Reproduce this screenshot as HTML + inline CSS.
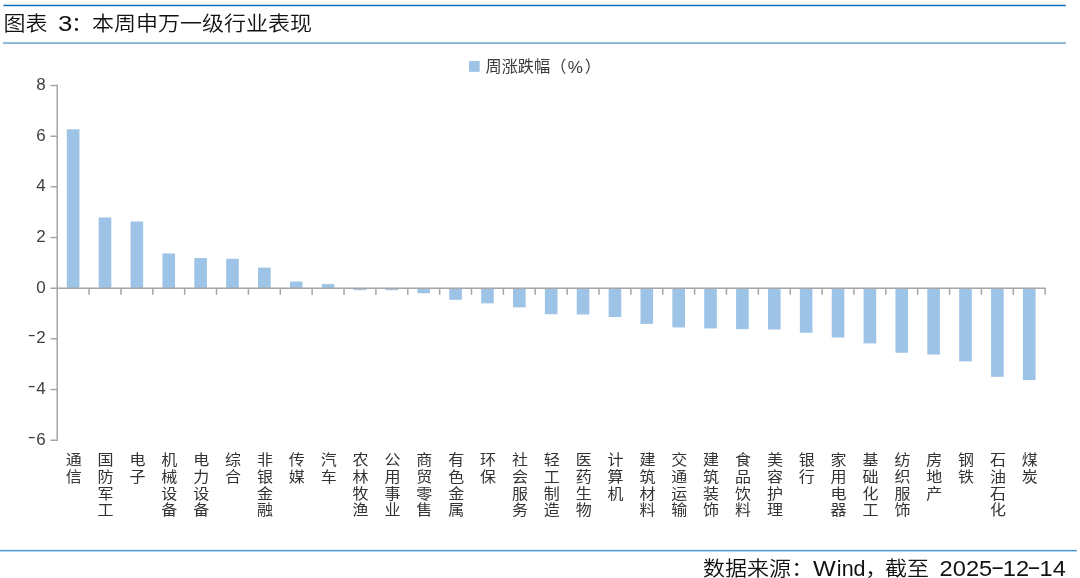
<!DOCTYPE html>
<html lang="zh-CN">
<head>
<meta charset="utf-8">
<title>图表 3：本周申万一级行业表现</title>
<style>
html,body{margin:0;padding:0;background:#fff;}
body{width:1080px;height:578px;position:relative;overflow:hidden;font-family:"Liberation Sans","Noto Sans CJK SC",sans-serif;}
.abs{position:absolute;}
.cjk{font-family:"Liberation Sans","Noto Sans CJK SC",sans-serif;font-weight:350;}
.title{left:0;top:8.2px;width:400px;height:32px;line-height:32px;font-size:22px;color:#111;white-space:nowrap;}
.src{left:0;top:554.2px;width:1080px;height:30px;line-height:30px;font-size:22px;color:#111;white-space:nowrap;}
.title span,.src span{display:inline-block;vertical-align:baseline;white-space:pre;transform:scaleY(0.94);}
.lat{font-family:"Liberation Sans",sans-serif;font-weight:400;font-size:21.5px;}
.hy{font-weight:400;display:inline-block;width:9.6px;text-align:center;transform:translateY(-1.8px) scaleX(1.75);}
.title span.lat,.src span.lat{transform:none;}
.src span.sx{transform:scaleX(1.1);transform-origin:0 50%;}
.wd{font-weight:400;display:inline-block;transform:scaleX(1.12);transform-origin:0 50%;margin-right:3.2px;}
.mn{font-weight:400;display:inline-block;transform:translateY(-2.7px) scaleX(1.4);transform-origin:100% 50%;margin-right:0.3px;}
svg.g{position:absolute;left:0;top:0;}
.yl{position:absolute;width:40px;left:5.8px;text-align:right;font-size:17px;line-height:20px;height:20px;color:#404040;font-family:"Liberation Sans",sans-serif;}
.xl{position:absolute;top:451.8px;width:16px;font-size:16px;line-height:17.9px;transform:scaleY(0.93);transform-origin:0 0;text-align:center;color:#333;word-break:break-all;font-weight:400;}
.lg{position:absolute;left:0;top:55.5px;width:700px;font-size:16.2px;line-height:20px;height:20px;color:#3a3a3a;white-space:nowrap;font-weight:400;}
.lg span{display:inline-block;vertical-align:baseline;white-space:pre;}
</style>
</head>
<body>
<svg class="g" width="1080" height="578" viewBox="0 0 1080 578">
<rect x="3.4" y="4.75" width="1062.3" height="1.45" fill="#0a6abf"/>
<rect x="3" y="41.9" width="1063" height="1" fill="#93c3e3"/>
<rect x="3" y="42.9" width="1063" height="1" fill="#82a9c9"/>
<rect x="469.1" y="61.1" width="10.6" height="10.7" fill="#9dc3e6"/>
<rect x="66.84" y="129.33" width="12.60" height="158.82" fill="#9dc3e6"/>
<rect x="98.70" y="217.48" width="12.60" height="70.67" fill="#9dc3e6"/>
<rect x="130.57" y="221.53" width="12.60" height="66.62" fill="#9dc3e6"/>
<rect x="162.44" y="253.45" width="12.60" height="34.70" fill="#9dc3e6"/>
<rect x="194.31" y="258.01" width="12.60" height="30.14" fill="#9dc3e6"/>
<rect x="226.19" y="258.77" width="12.60" height="29.38" fill="#9dc3e6"/>
<rect x="258.06" y="267.63" width="12.60" height="20.52" fill="#9dc3e6"/>
<rect x="289.93" y="281.56" width="12.60" height="6.59" fill="#9dc3e6"/>
<rect x="321.79" y="284.10" width="12.60" height="4.05" fill="#9dc3e6"/>
<rect x="353.66" y="288.15" width="12.60" height="2.03" fill="#9dc3e6"/>
<rect x="385.53" y="288.15" width="12.60" height="2.03" fill="#9dc3e6"/>
<rect x="417.40" y="288.15" width="12.60" height="5.07" fill="#9dc3e6"/>
<rect x="449.27" y="288.15" width="12.60" height="11.65" fill="#9dc3e6"/>
<rect x="481.14" y="288.15" width="12.60" height="15.20" fill="#9dc3e6"/>
<rect x="513.02" y="288.15" width="12.60" height="19.25" fill="#9dc3e6"/>
<rect x="544.89" y="288.15" width="12.60" height="26.09" fill="#9dc3e6"/>
<rect x="576.76" y="288.15" width="12.60" height="26.34" fill="#9dc3e6"/>
<rect x="608.63" y="288.15" width="12.60" height="28.88" fill="#9dc3e6"/>
<rect x="640.50" y="288.15" width="12.60" height="35.72" fill="#9dc3e6"/>
<rect x="672.37" y="288.15" width="12.60" height="39.26" fill="#9dc3e6"/>
<rect x="704.24" y="288.15" width="12.60" height="40.27" fill="#9dc3e6"/>
<rect x="736.11" y="288.15" width="12.60" height="41.03" fill="#9dc3e6"/>
<rect x="767.98" y="288.15" width="12.60" height="41.29" fill="#9dc3e6"/>
<rect x="799.85" y="288.15" width="12.60" height="44.58" fill="#9dc3e6"/>
<rect x="831.72" y="288.15" width="12.60" height="49.39" fill="#9dc3e6"/>
<rect x="863.59" y="288.15" width="12.60" height="55.22" fill="#9dc3e6"/>
<rect x="895.46" y="288.15" width="12.60" height="64.59" fill="#9dc3e6"/>
<rect x="927.33" y="288.15" width="12.60" height="66.36" fill="#9dc3e6"/>
<rect x="959.20" y="288.15" width="12.60" height="73.20" fill="#9dc3e6"/>
<rect x="991.07" y="288.15" width="12.60" height="88.66" fill="#9dc3e6"/>
<rect x="1022.94" y="288.15" width="12.60" height="91.95" fill="#9dc3e6"/>
<g stroke="#a6a6a6" stroke-width="1.5" fill="none">
<path d="M57.20 84.76 V440.88"/>
<path d="M50.5 85.51 H57.20 M50.5 136.17 H57.20 M50.5 186.83 H57.20 M50.5 237.49 H57.20 M50.5 288.15 H57.20 M50.5 338.81 H57.20 M50.5 389.47 H57.20 M50.5 440.13 H57.20"/>
<path d="M57.20 288.15 H1045.95"/>
<path d="M89.07 288.15 V294.75 M120.94 288.15 V294.75 M152.81 288.15 V294.75 M184.68 288.15 V294.75 M216.55 288.15 V294.75 M248.42 288.15 V294.75 M280.29 288.15 V294.75 M312.16 288.15 V294.75 M344.03 288.15 V294.75 M375.90 288.15 V294.75 M407.77 288.15 V294.75 M439.64 288.15 V294.75 M471.51 288.15 V294.75 M503.38 288.15 V294.75 M535.25 288.15 V294.75 M567.12 288.15 V294.75 M598.99 288.15 V294.75 M630.86 288.15 V294.75 M662.73 288.15 V294.75 M694.60 288.15 V294.75 M726.47 288.15 V294.75 M758.34 288.15 V294.75 M790.21 288.15 V294.75 M822.08 288.15 V294.75 M853.95 288.15 V294.75 M885.82 288.15 V294.75 M917.69 288.15 V294.75 M949.56 288.15 V294.75 M981.43 288.15 V294.75 M1013.30 288.15 V294.75 M1045.17 288.15 V294.75"/>
</g>
<rect x="0" y="549.9" width="1076.8" height="1.5" fill="#4a96d2"/>
</svg>
<div class="abs cjk title"><span style="margin-left:3.6px;width:48.3px;">图表</span><span class="lat" style="width:19.1px;"> <b class="wd" style="transform:scaleX(1.2);margin:0">3</b></span><span style="width:21px;">：</span><span>本周申万一级行业表现</span></div>
<div class="lg cjk"><span style="margin-left:485.5px;width:82.3px;">周涨跌幅（</span><span style="width:17px;position:relative;top:1px;font-size:17px;">%</span><span>）</span></div>
<div class="yl" style="top:75.1px;">8</div>
<div class="yl" style="top:125.8px;">6</div>
<div class="yl" style="top:176.4px;">4</div>
<div class="yl" style="top:227.1px;">2</div>
<div class="yl" style="top:277.8px;">0</div>
<div class="yl" style="top:328.4px;"><b class="mn">-</b>2</div>
<div class="yl" style="top:379.1px;"><b class="mn">-</b>4</div>
<div class="yl" style="top:429.7px;"><b class="mn">-</b>6</div>
<div class="xl cjk" style="left:65.7px;">通信</div>
<div class="xl cjk" style="left:97.6px;">国防军工</div>
<div class="xl cjk" style="left:129.5px;">电子</div>
<div class="xl cjk" style="left:161.3px;">机械设备</div>
<div class="xl cjk" style="left:193.2px;">电力设备</div>
<div class="xl cjk" style="left:225.1px;">综合</div>
<div class="xl cjk" style="left:257.0px;">非银金融</div>
<div class="xl cjk" style="left:288.8px;">传媒</div>
<div class="xl cjk" style="left:320.7px;">汽车</div>
<div class="xl cjk" style="left:352.6px;">农林牧渔</div>
<div class="xl cjk" style="left:384.4px;">公用事业</div>
<div class="xl cjk" style="left:416.3px;">商贸零售</div>
<div class="xl cjk" style="left:448.2px;">有色金属</div>
<div class="xl cjk" style="left:480.0px;">环保</div>
<div class="xl cjk" style="left:511.9px;">社会服务</div>
<div class="xl cjk" style="left:543.8px;">轻工制造</div>
<div class="xl cjk" style="left:575.7px;">医药生物</div>
<div class="xl cjk" style="left:607.5px;">计算机</div>
<div class="xl cjk" style="left:639.4px;">建筑材料</div>
<div class="xl cjk" style="left:671.3px;">交通运输</div>
<div class="xl cjk" style="left:703.1px;">建筑装饰</div>
<div class="xl cjk" style="left:735.0px;">食品饮料</div>
<div class="xl cjk" style="left:766.9px;">美容护理</div>
<div class="xl cjk" style="left:798.7px;">银行</div>
<div class="xl cjk" style="left:830.6px;">家用电器</div>
<div class="xl cjk" style="left:862.5px;">基础化工</div>
<div class="xl cjk" style="left:894.4px;">纺织服饰</div>
<div class="xl cjk" style="left:926.2px;">房地产</div>
<div class="xl cjk" style="left:958.1px;">钢铁</div>
<div class="xl cjk" style="left:990.0px;">石油石化</div>
<div class="xl cjk" style="left:1021.8px;">煤炭</div>
<div class="abs cjk src"><span style="margin-left:703px;width:88.2px;">数据来源</span><span style="width:22.2px;">：</span><span class="lat" style="width:51.8px;"><b class="wd">W</b>ind</span><span style="width:19.8px;">，</span><span style="width:48px;">截至</span><span class="lat sx"> 2025<b class="hy">-</b>12<b class="hy">-</b>14</span></div>
</body>
</html>
